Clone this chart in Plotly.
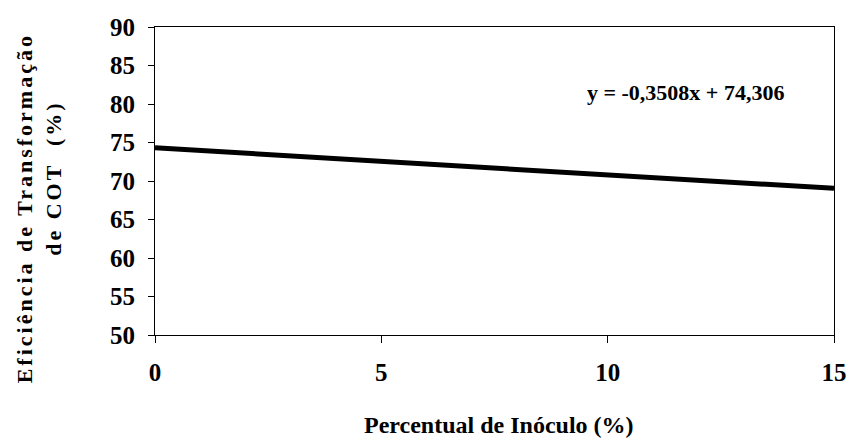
import plotly.graph_objects as go

# Data (trend line)
x_vals = [0, 15]
y_vals = [74.306, 69.044]
x_ticks = [0, 5, 10, 15]
y_ticks = [50, 55, 60, 65, 70, 75, 80, 85, 90]
equation = "y = -0,3508x + 74,306"
x_title = "Percentual de Inóculo (%)"
y_title_1 = "Eficiência de Transformação"
y_title_2 = "de COT  (%)"

FONT = "Liberation Serif"

fig = go.Figure()
fig.add_trace(go.Scatter(x=x_vals, y=y_vals, mode="lines",
                         line=dict(color="black", width=5), showlegend=False,
                         hoverinfo="skip"))

L, R, T, B = 155, 13, 27, 109
W, H = 859, 444
pw = W - L - R
ph = H - T - B

def px(xp):
    return (xp - L) / pw

def py(yp):
    return (H - B - yp) / ph

def spaced(t, sp):
    return '<span style="letter-spacing:%dpx"><b>%s</b></span>' % (sp, t)

fig.update_layout(
    width=W, height=H,
    margin=dict(l=L, r=R, t=T, b=B),
    paper_bgcolor="white", plot_bgcolor="white",
    font=dict(family=FONT, color="black"),
    xaxis=dict(range=[0, 15], tickvals=x_ticks, showgrid=False, zeroline=False,
               showline=True, linecolor="black", linewidth=1, mirror=True,
               ticks="outside", ticklen=7, tickcolor="black",
               tickfont=dict(family=FONT, size=25, color="black", weight="bold"),
               ticklabelstandoff=8),
    yaxis=dict(range=[50, 90], tickvals=y_ticks, showgrid=False, zeroline=False,
               showline=True, linecolor="black", linewidth=1, mirror=True,
               ticks="outside", ticklen=6, tickcolor="black",
               tickfont=dict(family=FONT, size=25, color="black", weight="bold"),
               ticklabelstandoff=8),
    annotations=[
        dict(text="<b>" + equation + "</b>", x=px(695), y=py(92), xref="paper", yref="paper",
             showarrow=False, xanchor="center", yanchor="middle",
             font=dict(family=FONT, size=22, color="black")),
        dict(text="<b>" + x_title + "</b>", x=px(505), y=py(425), xref="paper", yref="paper",
             showarrow=False, xanchor="center", yanchor="middle",
             font=dict(family=FONT, size=24, color="black")),
        dict(text=spaced(y_title_1, 3), x=px(22), y=py(208), xref="paper", yref="paper",
             showarrow=False, xanchor="center", yanchor="middle", textangle=-90,
             font=dict(family=FONT, size=22, color="black")),
        dict(text=spaced(y_title_2, 3), x=px(51), y=py(178), xref="paper", yref="paper",
             showarrow=False, xanchor="center", yanchor="middle", textangle=-90,
             font=dict(family=FONT, size=22, color="black")),
    ],
)

fig.write_html("out.html")
